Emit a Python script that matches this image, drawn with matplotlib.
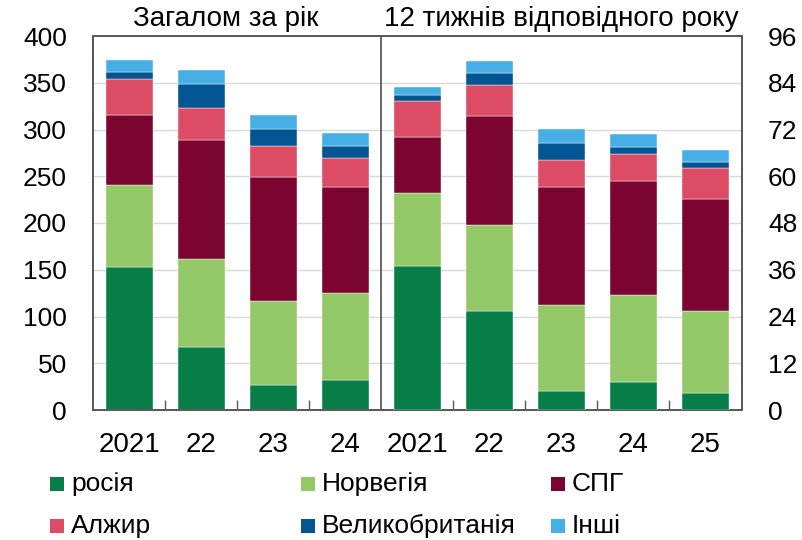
import matplotlib
matplotlib.use('Agg')
import matplotlib.pyplot as plt
from matplotlib.patches import Rectangle
import numpy as np

plt.rcParams['font.family'] = ['Liberation Sans', 'DejaVu Sans']

# data
sources = ['росія', 'Норвегія', 'СПГ', 'Алжир', 'Великобританія', 'Інші']
colors = ['#077E48', '#93C867', '#7B0431', '#DC4C64', '#005592', '#46AFE5']

year_labels = ['2021', '22', '23', '24']
week_labels = ['2021', '22', '23', '24', '25']

# whole year, left scale
year_russia = [153, 67, 27, 32]
year_norway = [88, 94, 90, 93.5]
year_lng = [75, 128, 132.5, 112.5]
year_algeria = [38, 34, 33, 32]
year_uk = [8, 26, 18, 12]
year_other = [12.5, 15, 14.5, 14.5]

# first 12 weeks, right scale
week_russia = [37, 25.5, 5.0, 7.2, 4.3]
week_norway = [18.6, 22, 22, 22.4, 21.0]
week_lng = [14.5, 27.9, 30.3, 29.2, 28.8]
week_algeria = [9.3, 8, 6.9, 6.9, 7.9]
week_uk = [1.5, 3, 4.4, 1.7, 1.7]
week_other = [2.0, 3.2, 3.5, 3.4, 3.0]

year_series = [year_russia, year_norway, year_lng, year_algeria, year_uk, year_other]
week_series = [week_russia, week_norway, week_lng, week_algeria, week_uk, week_other]

spine_col = '#595959'
fig = plt.figure(figsize=(8.02, 5.40), dpi=100)
ax = fig.add_axes([93.3 / 802, 130 / 540, 648.2 / 802, 374 / 540])
ax2 = ax.twinx()

x_year = np.arange(len(year_labels))
x_week = np.arange(len(week_labels)) + len(year_labels)
width = 0.66

bottom = np.zeros(len(x_year))
for vals, c in zip(year_series, colors):
    ax.bar(x_year, vals, width, bottom=bottom, color=c, edgecolor='white', linewidth=0.3, zorder=3)
    bottom += np.array(vals)

bottom = np.zeros(len(x_week))
for vals, c in zip(week_series, colors):
    ax2.bar(x_week, vals, width, bottom=bottom, color=c, edgecolor='white', linewidth=0.3, zorder=3)
    bottom += np.array(vals)

ax.set_xlim(-0.5, 8.5)
ax.set_ylim(0, 400)
ax2.set_ylim(0, 96)
ax.set_yticks(np.arange(0, 401, 50))
ax2.set_yticks(np.arange(0, 97, 12))
ax.yaxis.grid(True, color='#D9D9D9', linewidth=1, zorder=0)
ax.set_axisbelow(True)

ax.set_xticks(np.concatenate([x_year, x_week]))
ax.set_xticklabels(year_labels + week_labels)
ax.set_xticks([0.5, 1.5, 2.5, 4.5, 5.5, 6.5, 7.5], minor=True)
ax.tick_params(axis='x', which='major', length=0, pad=16, labelsize=20)
ax.tick_params(axis='x', which='minor', direction='in', length=7, width=1, color=spine_col)
ax.tick_params(axis='y', length=0, pad=19, labelsize=19)
ax2.tick_params(axis='y', direction='in', length=0, pad=19, labelsize=19)

for a in (ax, ax2):
    for s in a.spines.values():
        s.set_color(spine_col)
        s.set_linewidth(1.3)

ax.axvline(3.5, color='#404040', linewidth=1.1, zorder=4)

fig.text(225.7 / 802, 1 - 19 / 540, 'Загалом за рік', ha='center', va='center', fontsize=20)
fig.text(561 / 802, 1 - 19 / 540, '12 тижнів відповідного року', ha='center', va='center', fontsize=20)

# legend laid out on a fixed grid
for i, (name, c) in enumerate(zip(sources, colors)):
    row, col = divmod(i, 3)
    x0 = 50 + col * 250.5
    yc = 484 + row * 42
    fig.patches.append(Rectangle((x0 / 802, 1 - (yc + 7) / 540), 14 / 802, 14 / 540,
                                 transform=fig.transFigure, facecolor=c, edgecolor='none'))
    fig.text((x0 + 21) / 802, 1 - yc / 540, name, ha='left', va='center', fontsize=19)

fig.savefig('out.png', dpi=100, facecolor='white')
